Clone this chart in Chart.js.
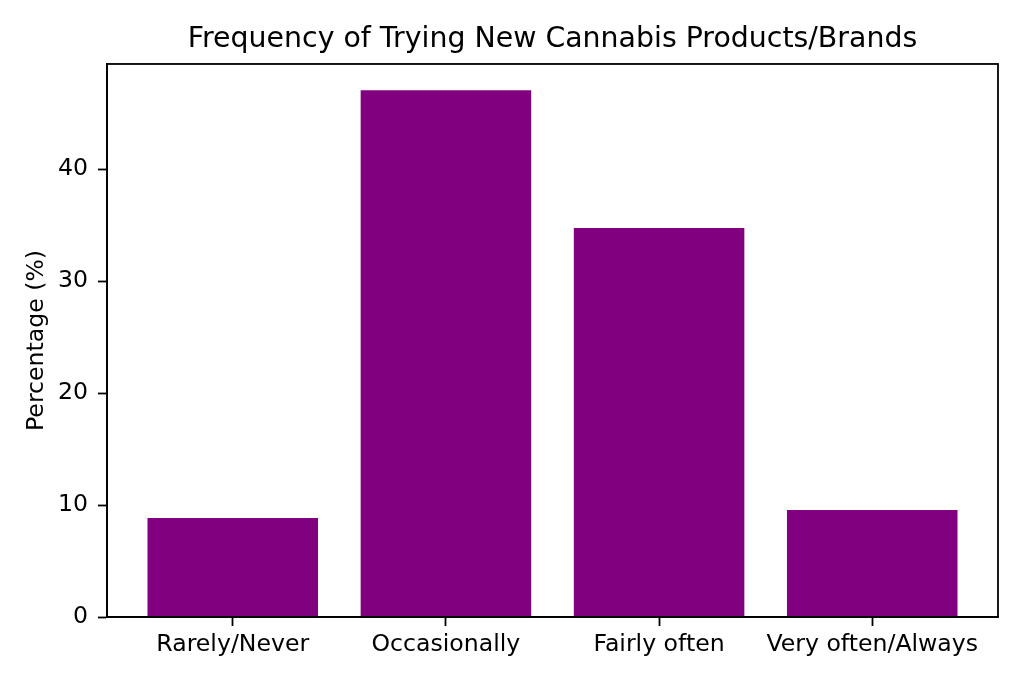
<!DOCTYPE html>
<html>
<head>
<meta charset="utf-8">
<script src="https://cdn.jsdelivr.net/npm/chart.js@4/dist/chart.umd.min.js"></script>
<style>
  html, body { margin: 0; padding: 0; background: #ffffff; }
  #wrap { width: 1024px; height: 683px; }
</style>
</head>
<body>
<div id="wrap"><canvas id="c" width="1024" height="683"></canvas></div>
<script>
const categories = ['Rarely/Never', 'Occasionally', 'Fairly often', 'Very often/Always'];
const percentages = [8.85, 47.05, 34.75, 9.55];
const yTicks = [0, 10, 20, 30, 40];
const titleText = 'Frequency of Trying New Cannabis Products/Brands';
const yLabel = 'Percentage (%)';

const FONT = 'DejaVu Sans';
const BLACK = '#000000';
const TICK_SIZE = 23.6;
const TITLE_SIZE = 28.4;

const boxPlugin = {
  id: 'box',
  afterLayout(chart) {
    const t = chart.titleBlock;
    if (t) {
      t.left = chart.chartArea.left;
      t.right = chart.chartArea.right;
      t.width = t.right - t.left;
    }
  },
  afterDatasetsDraw(chart) {
    const a = chart.chartArea, ctx = chart.ctx;
    ctx.save();
    ctx.strokeStyle = BLACK;
    ctx.lineWidth = 1.8;
    ctx.strokeRect(a.left, a.top, a.right - a.left, a.bottom - a.top);
    ctx.restore();
  }
};

const barData = percentages.map((v, i) => ({ x: i, y: v }));
const yMax = Math.max(...percentages) * 1.05;

new Chart(document.getElementById('c'), {
  type: 'bar',
  data: {
    datasets: [{
      data: barData,
      backgroundColor: '#800080',
      borderWidth: 0,
      barPercentage: 0.8,
      categoryPercentage: 1.0
    }]
  },
  options: {
    responsive: false,
    devicePixelRatio: 1,
    animation: false,
    layout: { padding: { left: 0, right: 26, top: 0, bottom: 0 } },
    plugins: {
      legend: { display: false },
      tooltip: { enabled: false },
      title: {
        display: true,
        text: titleText,
        color: BLACK,
        font: { family: FONT, size: TITLE_SIZE, weight: 'normal' },
        padding: { top: 22.5, bottom: 7.4 }
      }
    },
    scales: {
      x: {
        type: 'linear',
        offset: false,
        min: -0.59,
        max: 3.59,
        afterBuildTicks(s) { s.ticks = categories.map((c, i) => ({ value: i })); },
        afterFit(s) { s.height = 66; },
        ticks: {
          color: BLACK,
          font: { family: FONT, size: TICK_SIZE },
          padding: 5,
          maxRotation: 0,
          autoSkip: false,
          callback: (v) => categories[v]
        },
        grid: { display: true, offset: false, drawOnChartArea: false, tickLength: 9, tickColor: BLACK, tickWidth: 1.8 },
        border: { display: true, color: BLACK, width: 1.8 }
      },
      y: {
        min: 0,
        max: yMax,
        afterBuildTicks(s) { s.ticks = yTicks.map(v => ({ value: v })); },
        afterFit(s) { s.width = 107; },
        ticks: {
          color: BLACK,
          font: { family: FONT, size: TICK_SIZE },
          padding: 10
        },
        grid: { display: true, drawOnChartArea: false, tickLength: 9, tickColor: BLACK, tickWidth: 1.8 },
        border: { display: true, color: BLACK, width: 1.8 },
        title: {
          display: true,
          text: yLabel,
          color: BLACK,
          font: { family: FONT, size: TICK_SIZE },
          padding: { top: 22.5, bottom: 0 }
        }
      }
    }
  },
  plugins: [boxPlugin]
});
</script>
</body>
</html>
